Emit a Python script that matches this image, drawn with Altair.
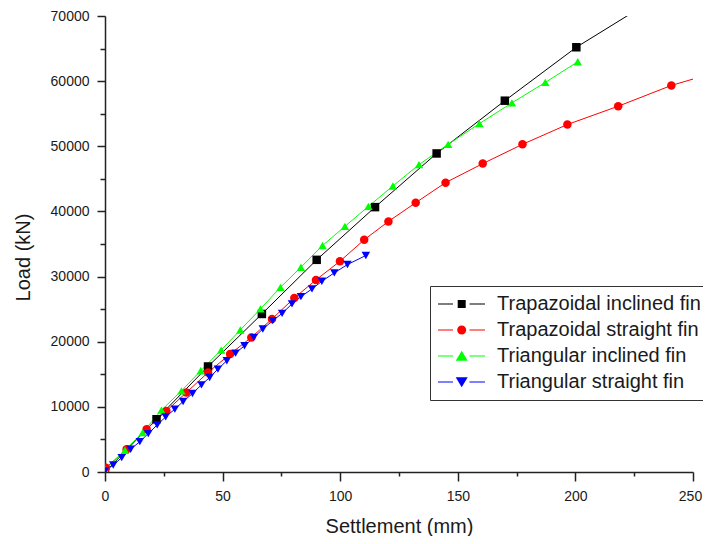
import altair as alt
import pandas as pd

series_names = [
    "Trapazoidal inclined fin",
    "Trapazoidal straight fin",
    "Triangular inclined fin",
    "Triangular straight fin",
]
series_colors = ["#000000", "#ff0000", "#00ff00", "#0000ff"]
marker_shapes = ["square", "circle", "triangle-up", "triangle-down"]

# Settlement (mm) / Load (kN)
trap_incl_s = [0, 21.9, 43.8, 66.7, 90.0, 114.8, 141.0, 170.0, 200.4, 230.0]
trap_incl_L = [0, 8100, 16200, 24260, 32570, 40660, 48900, 57000, 65200, 71800]

trap_str_s = [0.4, 9.2, 17.7, 26.1, 34.6, 43.8, 53.2, 62.2, 71.0, 80.5, 89.7, 99.9,
              110.2, 120.5, 132.1, 144.8, 160.6, 177.5, 196.6, 218.2, 240.8, 263.0]
trap_str_L = [660, 3490, 6570, 9380, 12200, 15280, 18100, 20660, 23490, 26720, 29490, 32350,
              35650, 38460, 41340, 44420, 47340, 50300, 53340, 56150, 59340, 61700]

tri_incl_s = [0, 8.5, 16.0, 24.0, 32.5, 40.7, 49.4, 57.5, 66.1, 74.6, 83.3, 92.5,
              102.0, 112.0, 122.4, 133.5, 145.9, 159.2, 173.0, 187.2, 201.0]
tri_incl_L = [400, 3340, 6050, 9490, 12460, 15540, 18720, 21800, 25030, 28350, 31430, 34770,
              37700, 40770, 43900, 47180, 50300, 53490, 56660, 59800, 62970]

tri_str_s = [0, 3.5, 7.1, 10.9, 14.8, 18.4, 22.2, 25.8, 29.7, 33.2, 37.2, 41.0, 44.5, 48.0,
             51.8, 55.5, 59.3, 63.3, 67.1, 71.3, 75.3, 79.5, 83.3, 88.0, 92.2, 97.5, 103.1, 110.9]
tri_str_L = [150, 1080, 2200, 3490, 4660, 5900, 7230, 8460, 9650, 10820, 12050, 13380, 14510, 15800,
             17080, 18260, 19380, 20660, 21950, 23230, 24350, 25800, 26920, 28100, 29280, 30570, 31850, 33230]

x_major_ticks = [0, 50, 100, 150, 200, 250]
x_minor_ticks = [25, 75, 125, 175, 225]
y_major_ticks = [0, 10000, 20000, 30000, 40000, 50000, 60000, 70000]
y_minor_ticks = [5000, 15000, 25000, 35000, 45000, 55000, 65000]

# legend symbols: line stub - marker - line stub (1 unit = 10 px, centre of box at 0)
stub = "M-1,-0.06H0.5V0.06H-1ZM2.15,-0.06H3.7V0.06H2.15Z"
legend_paths = [
    stub + "M0.97,-0.4H1.77V0.4H0.97Z",
    stub + "M0.92,0A0.45,0.45 0 1,0 1.82,0A0.45,0.45 0 1,0 0.92,0Z",
    stub + "M1.37,-0.52L1.97,0.48H0.77Z",
    stub + "M1.37,0.52L1.97,-0.48H0.77Z",
]

rows = []
for name, sv, lv in zip(series_names,
                        [trap_incl_s, trap_str_s, tri_incl_s, tri_str_s],
                        [trap_incl_L, trap_str_L, tri_incl_L, tri_str_L]):
    for s, l in zip(sv, lv):
        rows.append({"series": name, "s": s, "L": l})
df = pd.DataFrame(rows)

FONT = "Liberation Sans"
x_scale = alt.Scale(domain=[0, 250], nice=False, zero=False)
y_scale = alt.Scale(domain=[0, 70000], nice=False, zero=False)

axis_common = dict(grid=False, domainColor="#222222", tickColor="#222222", domainWidth=1.5,
                   tickWidth=1.5, labelFont=FONT, labelColor="#1a1a1a", labelFontSize=14,
                   labelFlush=False, labelOverlap=False, titleFont=FONT, titleFontSize=20,
                   titleFontWeight="normal", titleColor="#1a1a1a")

x_major_axis = alt.Axis(values=x_major_ticks, orient="bottom", tickSize=9, labelPadding=8,
                        labelOffset={"condition": {"test": "datum.value == 250", "value": -3}, "value": 0},
                        title="Settlement (mm)", titleBaseline="alphabetic", titleY=60,
                        **axis_common)
y_major_axis = alt.Axis(values=y_major_ticks, orient="left", tickSize=8, labelPadding=8,
                        title="Load (kN)", titleBaseline="alphabetic", titleX=-76, titleY=241,
                        titleAngle=-90, titleAlign="center", format="d", **axis_common)
x_minor_axis = alt.Axis(values=x_minor_ticks, orient="bottom", tickSize=4, labels=False,
                        domain=False, title=None, grid=False, tickColor="#222222", tickWidth=1.5)
y_minor_axis = alt.Axis(values=y_minor_ticks, orient="left", tickSize=5, labels=False,
                        domain=False, title=None, grid=False, tickColor="#222222", tickWidth=1.5)

color_main = alt.Color("series:N", scale=alt.Scale(domain=series_names, range=series_colors), legend=None)

lines = alt.Chart(df).mark_line(strokeWidth=1, clip=True).encode(
    x=alt.X("s:Q", scale=x_scale, axis=x_minor_axis),
    y=alt.Y("L:Q", scale=y_scale, axis=y_minor_axis),
    color=color_main,
    detail="series:N",
    order="s:Q",
)

points = alt.Chart(df).mark_point(filled=True, opacity=1, clip=True, strokeWidth=0).encode(
    x=alt.X("s:Q", scale=x_scale, axis=x_major_axis),
    y=alt.Y("L:Q", scale=y_scale, axis=y_major_axis),
    color=color_main,
    shape=alt.Shape("series:N", scale=alt.Scale(domain=series_names, range=marker_shapes), legend=None),
    size=alt.Size("series:N", scale=alt.Scale(domain=series_names, range=[72, 72, 190, 170]), legend=None),
)

legend_def = dict(title=None, orient="none", legendX=325, legendY=270, padding=8,
                  strokeColor="#333333", fillColor="white", labelFont=FONT, labelFontSize=20,
                  labelColor="#1a1a1a", labelOffset=39, symbolSize=400, symbolStrokeWidth=0,
                  symbolOpacity=1, rowPadding=6, labelLimit=400)

legend_layer = alt.Chart(df).mark_point(filled=True, opacity=1, clip=True).encode(
    x=alt.value(-500),
    y=alt.value(-500),
    color=alt.Color("series:N", scale=alt.Scale(domain=series_names, range=series_colors),
                    legend=alt.Legend(**legend_def)),
    shape=alt.Shape("series:N", scale=alt.Scale(domain=series_names, range=legend_paths),
                    legend=alt.Legend(**legend_def)),
)

chart = alt.layer(lines, points, legend_layer).resolve_scale(
    color="independent", shape="independent"
).resolve_axis(
    x="independent", y="independent"
).properties(
    width=588, height=456,
    autosize=alt.AutoSizeParams(type="none"),
    padding={"left": 97, "top": 8, "right": 10, "bottom": 64},
).configure_view(stroke="transparent")

chart.save("out.html", embed_options={"renderer": "svg", "actions": False})
